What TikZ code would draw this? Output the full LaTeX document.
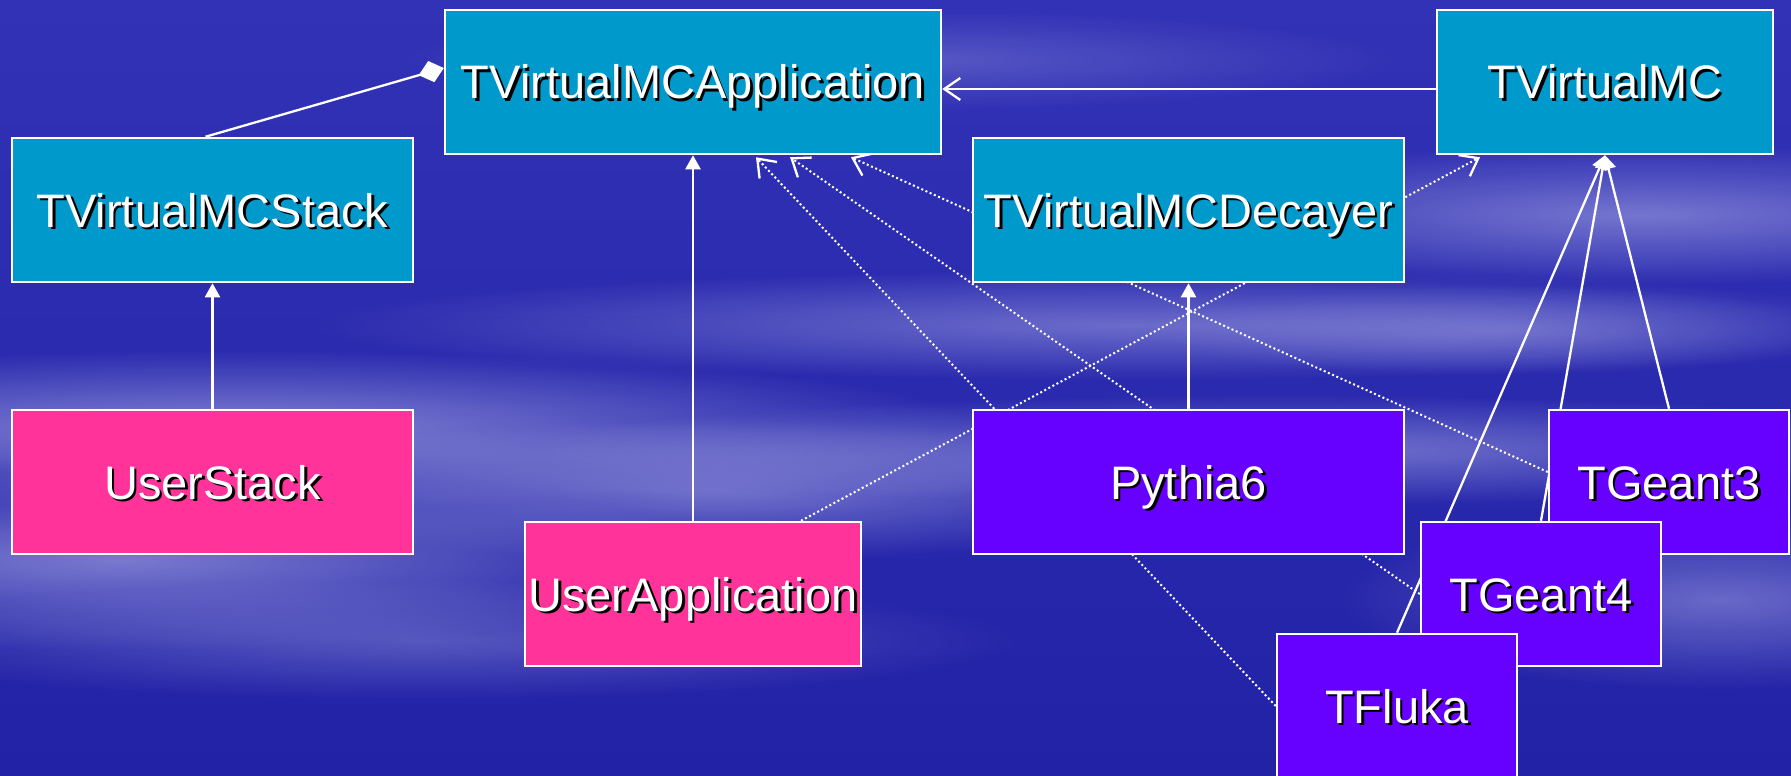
\documentclass[tikz,border=0pt]{standalone}
\usepackage{fontspec}
\setmainfont{Liberation Sans}
\usetikzlibrary{arrows.meta,fadings}

\definecolor{skytop}{RGB}{50,50,182}
\definecolor{skybottom}{RGB}{34,34,166}
\definecolor{haze}{RGB}{205,205,245}
\definecolor{abstractcls}{RGB}{0,153,204}
\definecolor{usercls}{RGB}{255,51,153}
\definecolor{implcls}{RGB}{102,0,255}

% soft radial puff used for the cloud streaks
\tikzfading[name=puff, inner color=transparent!0, outer color=transparent!100]

\pgfdeclarelayer{sky}
\pgfdeclarelayer{edges}
\pgfsetlayers{sky,edges,main}

% white label with a small black drop shadow
\newcommand\dropshadowed[1]{\makebox[0pt][l]{\hspace{2.7pt}\raisebox{-2.7pt}{\color{black}#1}}#1}

\begin{document}
\begin{tikzpicture}[x=1pt,y=-1pt,
  cls/.style={draw=white, line width=2.5pt, inner sep=0pt, minimum height=144pt,
    text=white, font=\fontsize{47}{56}\selectfont, text height=34pt, text depth=0pt},
  abstract/.style={cls, fill=abstractcls},
  user/.style={cls, fill=usercls},
  impl/.style={cls, fill=implcls},
  link/.style={draw=white, line width=2.3pt},
  deplink/.style={draw=white, line width=2pt, dash pattern=on 2pt off 2.6pt},
  inherits/.style={link, -{Triangle[length=14pt,width=15pt]}},
  owns/.style={link, -{Diamond[length=26pt,width=22pt]}},
  uses/.style={link, -{Straight Barb[length=16pt,width=22pt,line width=2.3pt]}},
  depends/.style={deplink, -{Straight Barb[length=16pt,width=24pt,line width=2.3pt]}},
  cloud/.style={fill=haze, path fading=puff}
]
\useasboundingbox (0,0) rectangle (1791,776);

% ---------- sky ----------
\begin{pgfonlayer}{sky}
  \shade[top color=skytop, bottom color=skybottom] (0,0) rectangle (1791,776);
  \fill[cloud, fill opacity=.55] (230,430) ellipse [x radius=760, y radius=80];
  \fill[cloud, fill opacity=.50] (120,560) ellipse [x radius=620, y radius=90];
  \fill[cloud, fill opacity=.45] (720,490) ellipse [x radius=520, y radius=70];
  \fill[cloud, fill opacity=.40] (1130,325) ellipse [x radius=820, y radius=55];
  \fill[cloud, fill opacity=.45] (1280,450) ellipse [x radius=760, y radius=55];
  \fill[cloud, fill opacity=.45] (1640,215) ellipse [x radius=560, y radius=70];
  \fill[cloud, fill opacity=.40] (1720,600) ellipse [x radius=380, y radius=90];
  \fill[cloud, fill opacity=.30] (1500,330) ellipse [x radius=360, y radius=45];
  \fill[cloud, fill opacity=.30] (420,640) ellipse [x radius=600, y radius=60];
  \fill[cloud, fill opacity=.25] (900,60) ellipse [x radius=500, y radius=50];
\end{pgfonlayer}

% ---------- classes ----------
\node[abstract, minimum width=496pt] (app)    at (693,82)    {\dropshadowed{TVirtualMCApplication}};
\node[abstract, minimum width=336pt] (vmc)    at (1605,82)   {\dropshadowed{TVirtualMC}};
\node[abstract, minimum width=401pt] (stack)  at (212.5,210) {\dropshadowed{TVirtualMCStack}};
\node[abstract, minimum width=431pt] (dec)    at (1188.5,210){\dropshadowed{TVirtualMCDecayer}};
\node[user,     minimum width=401pt] (ustack) at (212.5,482) {\dropshadowed{UserStack}};
\node[impl,     minimum width=431pt] (py)     at (1188.5,482){\dropshadowed{Pythia6}};
\node[user,     minimum width=336pt] (uapp)   at (693,594)   {\dropshadowed{UserApplication}};
\node[impl,     minimum width=240pt] (g3)     at (1669,482)  {\dropshadowed{TGeant3}};
\node[impl,     minimum width=240pt] (g4)     at (1541,594)  {\dropshadowed{TGeant4}};
\node[impl,     minimum width=240pt] (fl)     at (1397,706)  {\dropshadowed{TFluka}};

% ---------- relations ----------
\begin{pgfonlayer}{edges}
  \draw[owns] ([xshift=-7pt]stack.north) -- ([yshift=14pt]app.west);
  \draw[uses] ([yshift=-7pt]vmc.west) -- ([yshift=-7pt]app.east);
  \draw[inherits] (uapp.north) -- (app.south);
  \draw[inherits] (ustack.north) -- (stack.south);
  \draw[inherits] (py.north) -- (dec.south);
  \draw[inherits] (g3.north) -- (vmc.south);
  \draw[inherits] (g4.north) -- (vmc.south);
  \draw[inherits] (fl.north) -- (vmc.south);
  \draw[depends] (fl.west) -- ([xshift=63pt,yshift=-2pt]app.south);
  \draw[depends] (g4.west) -- ([xshift=97pt,yshift=-2pt]app.south);
  \draw[depends] ([yshift=10pt]g3.west) -- ([xshift=158pt,yshift=-2pt]app.south);
  \draw[depends] ([xshift=108pt]uapp.north) -- ([xshift=-125pt,yshift=-2pt]vmc.south);
\end{pgfonlayer}
\end{tikzpicture}
\end{document}
